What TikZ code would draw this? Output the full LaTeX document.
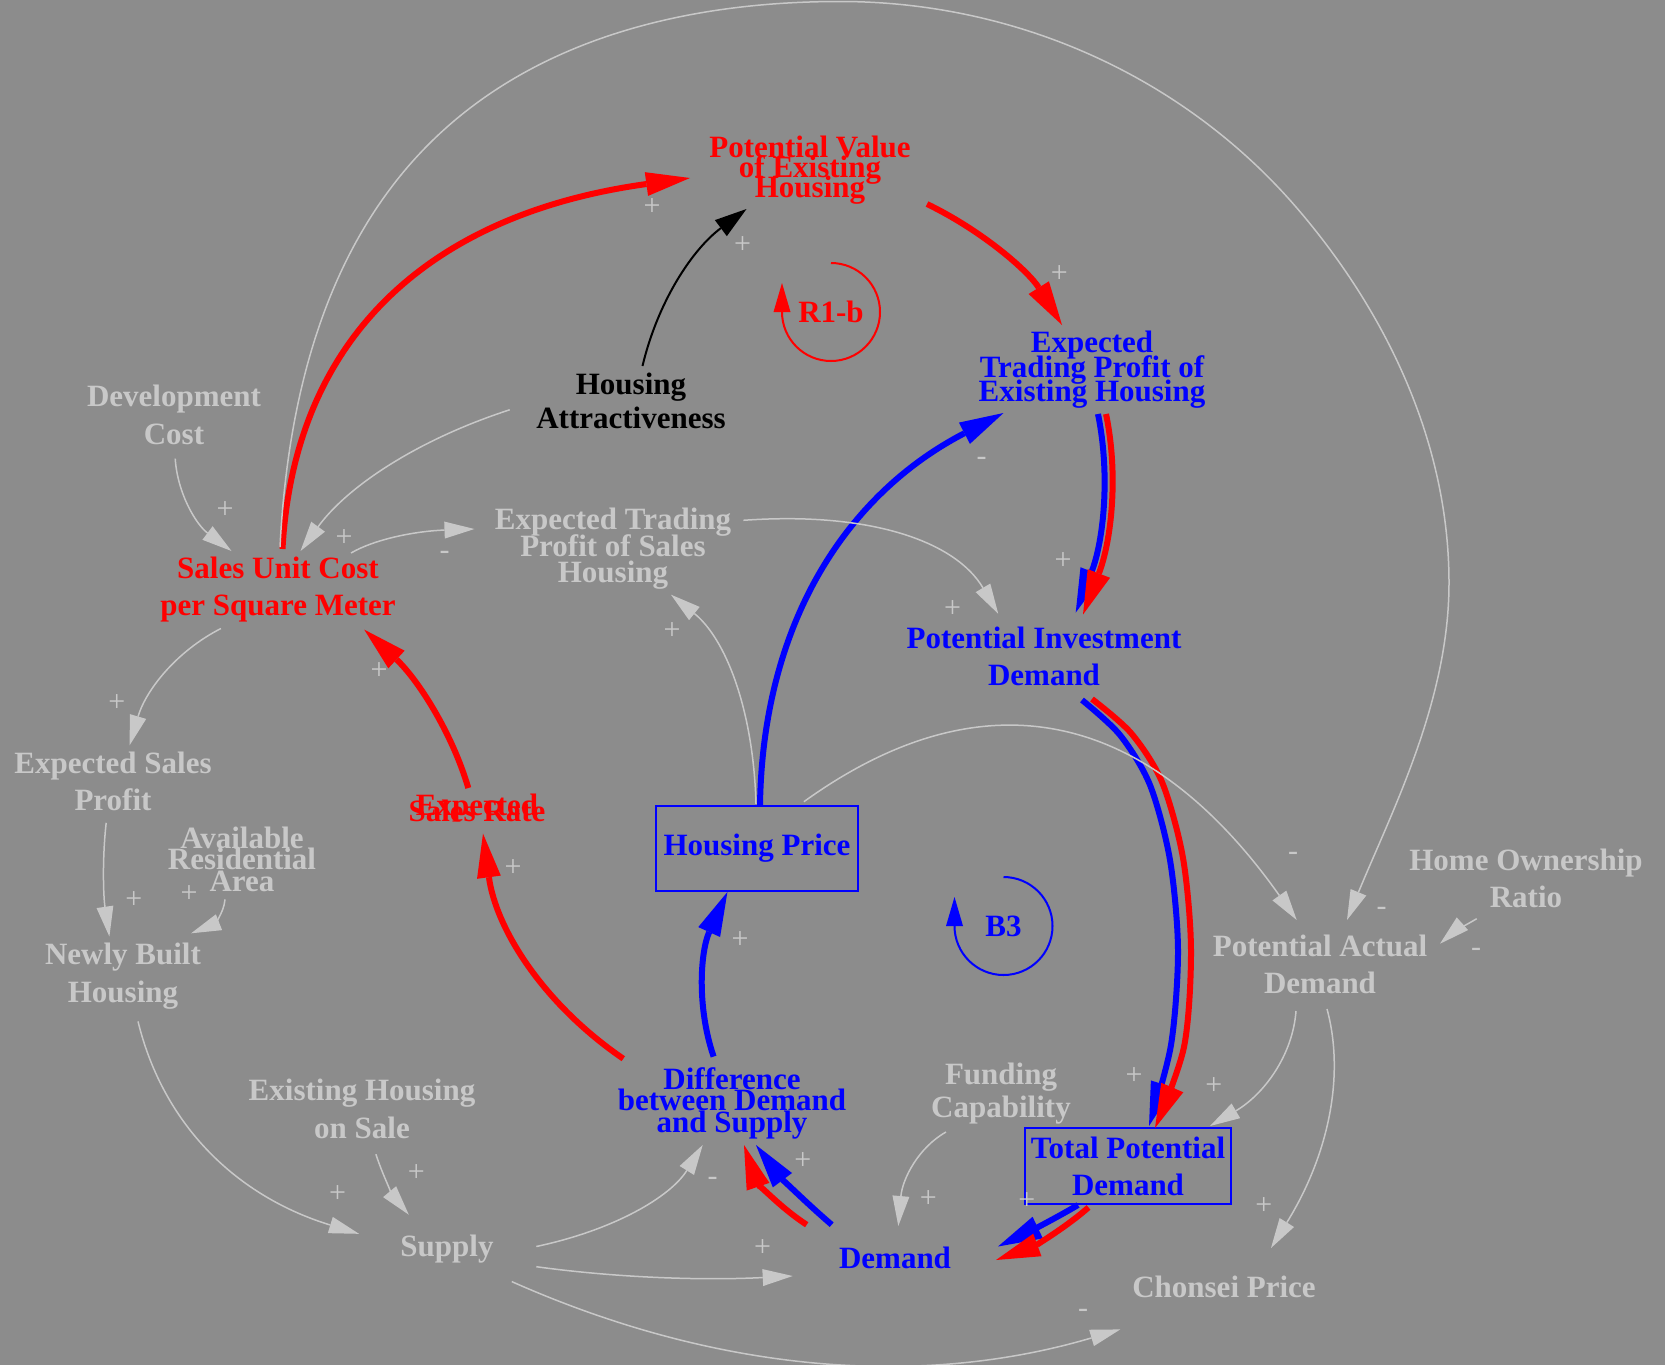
\documentclass[tikz,border=0pt]{standalone}
\usepackage{fontspec}
\setmainfont{Liberation Serif}
\usetikzlibrary{arrows.meta,calc}
\definecolor{bgc}{RGB}{140,140,140}
\definecolor{lgray}{RGB}{200,200,200}
\definecolor{cred}{RGB}{255,0,0}
\definecolor{cblue}{RGB}{0,0,255}
% bold label font with a chosen line pitch; lines may overlap
\newcommand\labfont[1]{\bfseries\fontsize{31}{#1}\selectfont\lineskiplimit=-200pt\lineskip=0pt\relax}
\tikzset{
  nb/.style={inner sep=0pt, align=center, font=\labfont{#1}},
  nb/.default=37,
  ng/.style={nb={#1}, text=lgray}, ng/.default=37,
  nr/.style={nb={#1}, text=cred}, nr/.default=37,
  nbl/.style={nb={#1}, text=cblue}, nbl/.default=37,
  nk/.style={nb={#1}, text=black}, nk/.default=37,
  sgn/.style={inner sep=0pt, text=lgray, font=\fontsize{30}{30}\selectfont},
  gl/.style={draw=lgray, line width=1.5pt, -{Triangle[length=30pt,width=17pt,line width=0pt]}},
  rl/.style={draw=cred, line width=6pt, -{Triangle[length=44pt,width=24pt,line width=0pt]}},
  bl/.style={draw=cblue, line width=6pt, -{Triangle[length=44pt,width=24pt,line width=0pt]}},
  kl/.style={draw=black, line width=2pt, -{Triangle[length=32pt,width=20pt,line width=0pt]}},
  rloop/.style={draw=cred, line width=2pt, -{Triangle[length=29pt,width=17pt,line width=0pt]}},
  bloop/.style={draw=cblue, line width=2pt, -{Triangle[length=29pt,width=17pt,line width=0pt]}}
}
\begin{document}
\begin{tikzpicture}[x=1pt,y=-1pt]
\fill[bgc] (0,0) rectangle (1665,1365);
\useasboundingbox (0,0) rectangle (1665,1365);

% variables
\node[nr=20] (pv) at (810,170) {Potential Value\\of Existing\\Housing};
\node[nbl=24.5] (etpe) at (1092,370) {Expected\\Trading Profit of\\Existing Housing};
\node[ng=38] (dc) at (174,415) {Development\\Cost};
\node[nk=34] (ha) at (631,401) {Housing\\Attractiveness};
\node[nr=37] (suc) at (278,590) {Sales Unit Cost\\per Square Meter};
\node[ng=26.5] (etps) at (613,549) {Expected Trading\\Profit of Sales\\Housing};
\node[nbl=37] (pid) at (1044,656) {Potential Investment\\Demand};
\node[ng=37] (esp) at (113,781) {Expected Sales\\Profit};
\node[nr=6] (esr) at (477,808) {Expected\\Sales Rate};
\node[ng=21.5] (ara) at (242,859) {Available\\Residential\\Area};
\node[nbl, draw=cblue, line width=2pt, minimum width=202pt, minimum height=85pt] (hp) at (757,848) {Housing Price};
\node[ng=37] (hor) at (1526,878) {Home Ownership\\Ratio};
\node[ng=37] (pad) at (1320,964) {Potential Actual\\Demand};
\node[ng=38] (nbh) at (123,976) {Newly Built\\Housing};
\node[ng=33] (fc) at (1001,1094) {Funding\\Capability};
\node[nbl=21.5] (diff) at (732,1103) {Difference\\between Demand\\and Supply};
\node[ng=38] (ehs) at (362,1109) {Existing Housing\\on Sale};
\node[nbl=37, draw=cblue, line width=2pt, minimum width=206pt, minimum height=76pt] (tpd) at (1128,1166) {Total Potential\\Demand};
\node[ng] (sup) at (447,1249) {Supply};
\node[nbl] (dem) at (895,1258) {Demand};
\node[ng] (cp) at (1224,1287) {Chonsei Price};
\node[nr] (r1) at (831,312) {R1-b};
\node[nbl] (b3) at (1003.5,926) {B3};

% loop markers
\draw[rloop] ($(r1)+(0,-49)$) arc[start angle=-90, end angle=180, radius=49] -- ++(0,-29);
\draw[bloop] ($(b3)+(0,-49)$) arc[start angle=-90, end angle=180, radius=49] -- ++(0,-29);

% highlighted loop links
\draw[rl] ($(suc)+(4.5,-41)$) .. controls (294,337) and (430,214) .. ($(pv)+(-120,8)$);
\draw[kl] ($(ha)+(11.5,-35)$) .. controls (658,301) and (692.5,249.3) .. ($(pv)+(-63.5,39)$);
\draw[rl] ($(pv)+(117,34)$) .. controls (984,231.7) and (1029,272) .. ($(etpe)+(-30,-45)$);
\draw[bl] ($(hp)+(3,-43)$) .. controls (762.7,626.3) and (843.8,495.7) .. ($(etpe)+(-88.5,43)$);
\draw[bl] ($(etpe)+(6,44)$) .. controls (1110.7,476.5) and (1103.2,542) .. ($(pid)+(31.7,-43.4)$);
\draw[rl] ($(etpe)+(14,44)$) .. controls (1119,476.5) and (1111,542) .. ($(pid)+(39,-41.5)$);
\draw[bl] plot[smooth] coordinates {($(pid)+(38,44)$) (1120,735) (1150,785) (1170,860) (1178,950) (1171,1045) ($(tpd)+(21,-40)$)};
\draw[rl] plot[smooth] coordinates {($(pid)+(48,43)$) (1131,733) (1162,782) (1183,858) (1191,950) (1184,1047) ($(tpd)+(27,-38)$)};
\draw[bl] ($(tpd)+(-50,39)$) .. controls (1052,1220.3) and (1025.3,1233.5) .. ($(dem)+(103,-11.5)$);
\draw[rl] ($(tpd)+(-39.5,41.4)$) .. controls (1062.8,1230) and (1032,1246.9) .. ($(dem)+(101,2)$);
\draw[bl] ($(dem)+(-63.3,-33.3)$) .. controls (803.6,1200.6) and (778.3,1174.7) .. ($(diff)+(24,42)$);
\draw[rl] ($(dem)+(-88.3,-33.3)$) .. controls (776.4,1205) and (755.5,1179.1) .. ($(diff)+(12,42)$);
\draw[bl] ($(diff)+(-18.4,-46.4)$) .. controls (696.2,1005.3) and (700.8,950.5) .. ($(hp)+(-29.6,44)$);
\draw[rl] ($(diff)+(-108.7,-44.3)$) .. controls (542.7,1003.5) and (495.9,928.5) .. ($(esr)+(6,25.6)$);
\draw[rl] ($(esr)+(-8.7,-20)$) .. controls (451.9,732.1) and (417.2,678.7) .. ($(suc)+(86.2,39.6)$);

% other links
\draw[gl] ($(dc)+(1.2,43.6)$) .. controls (177.5,493.8) and (196.3,524.6) .. ($(suc)+(-46.5,-39)$);
\draw[gl] ($(ha)+(-121.3,8.8)$) .. controls (416.6,440) and (346.9,487) .. ($(suc)+(22.5,-39)$);
\draw[gl] ($(suc)+(73,-37)$) .. controls (376.5,538.3) and (417.7,531) .. ($(etps)+(-138.5,-20)$);
\draw[gl] ($(etps)+(130.3,-28.7)$) .. controls (870.7,511.2) and (955.7,541.6) .. ($(pid)+(-45.8,-42.3)$);
\draw[gl] ($(hp)+(-1,-44.1)$) .. controls (753.3,707.9) and (725,638.2) .. ($(etps)+(58,45.7)$);
\draw[gl] ($(suc)+(-57.1,38.5)$) .. controls (176.3,651.3) and (145.8,690.2) .. ($(esp)+(16.6,-35.7)$);
\draw[gl] ($(esp)+(-6.8,41.8)$) .. controls (102.2,857.9) and (103.3,895.8) .. ($(nbh)+(-13.6,-39.5)$);
\draw[gl] ($(ara)+(-17,40.4)$) .. controls (223.8,914.2) and (212.5,924.8) .. ($(nbh)+(68.1,-42.7)$);
\draw[gl] ($(nbh)+(15,45.4)$) .. controls (163.5,1125.7) and (237.2,1196.5) .. ($(sup)+(-88,-15.2)$);
\draw[gl] ($(ehs)+(13.9,45.2)$) .. controls (383.3,1177.1) and (394.3,1197.3) .. ($(sup)+(-38.2,-34.3)$);
\draw[gl] ($(sup)+(89.3,-2.5)$) .. controls (615.1,1229.7) and (670.6,1196.5) .. ($(diff)+(-29.3,42)$);
\draw[gl] ($(sup)+(89.3,17.7)$) .. controls (615.8,1277.6) and (701.2,1280.7) .. ($(dem)+(-102.3,18)$);
\draw[gl] ($(sup)+(64.8,32.6)$) .. controls (716.9,1372.7) and (919.7,1388.7) .. ($(cp)+(-103.7,42.4)$);
\draw[gl] ($(hp)+(46.9,-46.3)$) .. controls (984.2,671.8) and (1148,709.7) .. ($(pad)+(-23.3,-44)$);
% long arc over the top of the diagram
\draw[gl] ($(suc)+(2,-43)$) .. controls (287.5,398) and (325.2,246.3) .. (431,142)
  .. controls (537.5,37) and (690,1.5) .. (840,1.5)
  .. controls (1016,1.5) and (1185,76.5) .. (1299,210.5)
  .. controls (1388.4,315.5) and (1449,445) .. (1449,583)
  .. controls (1449,701) and (1391.8,811.4) .. ($(pad)+(27,-44)$);
\draw[gl] ($(hor)+(-49.3,40.7)$) .. controls (1466,925) and (1452,933) .. ($(pad)+(120,-20.3)$);
\draw[gl] ($(pad)+(-24,47)$) .. controls (1292.7,1055.3) and (1264,1094.3) .. ($(tpd)+(82,-40)$);
\draw[gl] ($(pad)+(7,45)$) .. controls (1345.7,1078) and (1327,1157.7) .. ($(cp)+(47,-39)$);
\draw[gl] ($(fc)+(-55,38)$) .. controls (918.3,1147.6) and (902.4,1179) .. ($(dem)+(3.3,-32)$);

% link polarities
\node[sgn] (s1) at (652,207) {+};
\node[sgn] (s2) at (742.5,245) {+};
\node[sgn] (s3) at (1059.3,273.6) {+};
\node[sgn] (s4) at (981.6,461.2) {-};
\node[sgn] (s5) at (1063,560.6) {+};
\node[sgn] (s6) at (344,537.7) {+};
\node[sgn] (s7) at (444.7,555) {-};
\node[sgn] (s8) at (225,510) {+};
\node[sgn] (s9) at (952.5,609.5) {+};
\node[sgn] (s10) at (672,630.8) {+};
\node[sgn] (s11) at (379,671) {+};
\node[sgn] (s12) at (116.8,703) {+};
\node[sgn] (s13) at (513,867.6) {+};
\node[sgn] (s14) at (133.8,900.5) {+};
\node[sgn] (s15) at (189,894) {+};
\node[sgn] (s16) at (740,939.8) {+};
\node[sgn] (s17) at (1293,856.7) {-};
\node[sgn] (s18) at (1381.7,911.7) {-};
\node[sgn] (s19) at (1476,952.5) {-};
\node[sgn] (s20) at (337.7,1193.6) {+};
\node[sgn] (s21) at (416.3,1173.4) {+};
\node[sgn] (s22) at (712.7,1181.7) {-};
\node[sgn] (s23) at (802.7,1160.7) {+};
\node[sgn] (s24) at (762.7,1248.3) {+};
\node[sgn] (s25) at (928.3,1199) {+};
\node[sgn] (s26) at (1134,1075.7) {+};
\node[sgn] (s27) at (1213.8,1086.3) {+};
\node[sgn] (s28) at (1026.9,1201) {+};
\node[sgn] (s29) at (1263.7,1206.3) {+};
\node[sgn] (s30) at (1083,1313.6) {-};
\end{tikzpicture}
\end{document}
